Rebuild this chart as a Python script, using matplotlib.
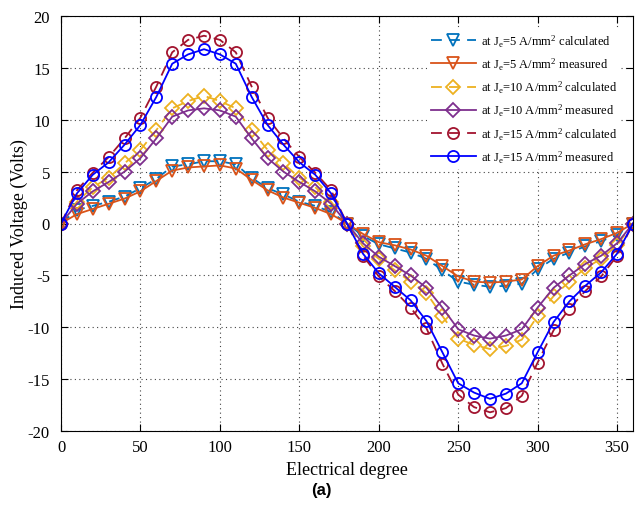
import numpy as np
import matplotlib.pyplot as plt

plt.rcParams['font.family'] = ['Liberation Serif', 'DejaVu Serif']
plt.rcParams['mathtext.fontset'] = 'custom'
plt.rcParams['mathtext.rm'] = 'Liberation Serif'
plt.rcParams['mathtext.it'] = 'Liberation Serif'
plt.rcParams['axes.unicode_minus'] = False

deg = np.arange(0, 361, 10)

# values, 0..360 deg every 10 deg
j5_calc = [0, 1.3, 1.7, 2.1, 2.6, 3.4, 4.3, 5.5, 5.7, 6.0, 6.0, 5.7, 4.4, 3.4, 2.8, 2.1, 1.7, 1.1, 0,
           -1.2, -2.0, -2.4, -2.8, -3.4, -4.5, -5.6, -5.9, -6.1, -6.0, -5.8, -4.4, -3.4, -2.8, -2.2, -1.7, -1.1, 0]
j5_meas = [0, 0.9, 1.4, 1.9, 2.4, 3.1, 4.1, 5.1, 5.4, 5.5, 5.6, 5.3, 4.2, 3.2, 2.5, 2.0, 1.5, 0.9, 0,
           -1.0, -1.8, -2.1, -2.5, -3.1, -4.1, -5.1, -5.6, -5.7, -5.6, -5.4, -4.1, -3.1, -2.6, -2.0, -1.5, -0.9, 0]
j10_calc = [0, 2.1, 3.5, 4.4, 5.8, 7.1, 9.0, 11.1, 11.8, 12.3, 11.8, 11.1, 9.0, 7.1, 5.8, 4.4, 3.5, 2.1, 0,
            -2.2, -3.4, -4.5, -5.6, -6.7, -8.9, -11.1, -11.7, -12.1, -11.8, -11.2, -8.9, -7.0, -5.6, -4.3, -3.4, -2.1, 0]
j10_meas = [0, 1.9, 3.1, 4.0, 5.0, 6.3, 8.2, 10.3, 10.9, 11.1, 10.9, 10.3, 8.2, 6.3, 5.0, 4.0, 3.1, 1.9, 0,
            -1.9, -3.2, -4.1, -5.0, -6.2, -8.1, -10.2, -10.8, -11.1, -10.8, -10.2, -8.1, -6.2, -5.0, -3.9, -3.1, -1.9, 0]
j15_calc = [0, 3.2, 4.9, 6.4, 8.2, 10.2, 13.2, 16.5, 17.7, 18.1, 17.7, 16.5, 13.2, 10.2, 8.2, 6.4, 4.9, 3.2, 0,
            -3.1, -5.1, -6.5, -8.1, -10.1, -13.5, -16.5, -17.7, -18.2, -17.8, -16.6, -13.4, -10.3, -8.2, -6.5, -5.1, -3.1, 0]
j15_meas = [0, 2.9, 4.7, 5.9, 7.6, 9.5, 12.2, 15.4, 16.3, 16.8, 16.3, 15.4, 12.2, 9.5, 7.6, 5.9, 4.7, 2.9, 0,
            -2.9, -4.8, -6.1, -7.4, -9.4, -12.4, -15.4, -16.3, -16.9, -16.4, -15.4, -12.4, -9.5, -7.5, -6.0, -4.7, -2.9, 0]

series = [
    (j5_calc, '#0072BD', '--', 'v', 'at J$_e$=5 A/mm$^2$ calculated'),
    (j5_meas, '#D95319', '-', 'v', 'at J$_e$=5 A/mm$^2$ measured'),
    (j10_calc, '#EDB120', '--', 'D', 'at J$_e$=10 A/mm$^2$ calculated'),
    (j10_meas, '#7E2F8E', '-', 'D', 'at J$_e$=10 A/mm$^2$ measured'),
    (j15_calc, '#A2142F', '--', 'o', 'at J$_e$=15 A/mm$^2$ calculated'),
    (j15_meas, '#0000FF', '-', 'o', 'at J$_e$=15 A/mm$^2$ measured'),
]

fig = plt.figure(figsize=(6.42, 5.06), dpi=100)
ax = fig.add_axes([61 / 642, 1 - 432 / 506, 572 / 642, 415 / 506])

for vals, col, ls, mk, lab in series:
    ms = 7 if mk == 'D' else 8
    ax.plot(deg, vals, color=col, linestyle=ls, marker=mk, markersize=ms,
            markerfacecolor='none', markeredgewidth=1.3, linewidth=1.3,
            dashes=(6, 4) if ls == '--' else (None, None), label=lab)

ax.set_xlim(0, 360)
ax.set_ylim(-20, 20)
ax.set_xticks(np.arange(0, 351, 50))
ax.set_yticks(np.arange(-20, 21, 5))
ax.grid(True, linestyle=(0, (1, 3)), color='#444444', linewidth=0.8)
ax.tick_params(direction='in', labelsize=12, length=5, top=True, right=True)
ax.tick_params(axis='x', pad=6)
ax.tick_params(axis='y', pad=8)
ax.set_xlabel('Electrical degree', fontsize=13)
ax.set_ylabel('Induced Voltage (Volts)', fontsize=13)
ax.yaxis.set_label_coords(-0.058, 0.5)

leg = ax.legend(loc='upper right', bbox_to_anchor=(0.99, 0.985), fontsize=9,
                frameon=True, framealpha=1, edgecolor='none', fancybox=False,
                handlelength=3.6, handletextpad=0.4, labelspacing=0.55,
                borderpad=0.3)

fig.text(0.5, 1 - 491 / 506, '(a)', ha='center', va='center', fontsize=12,
         fontweight='bold', family='Liberation Sans')

fig.savefig('out.png', dpi=100)
